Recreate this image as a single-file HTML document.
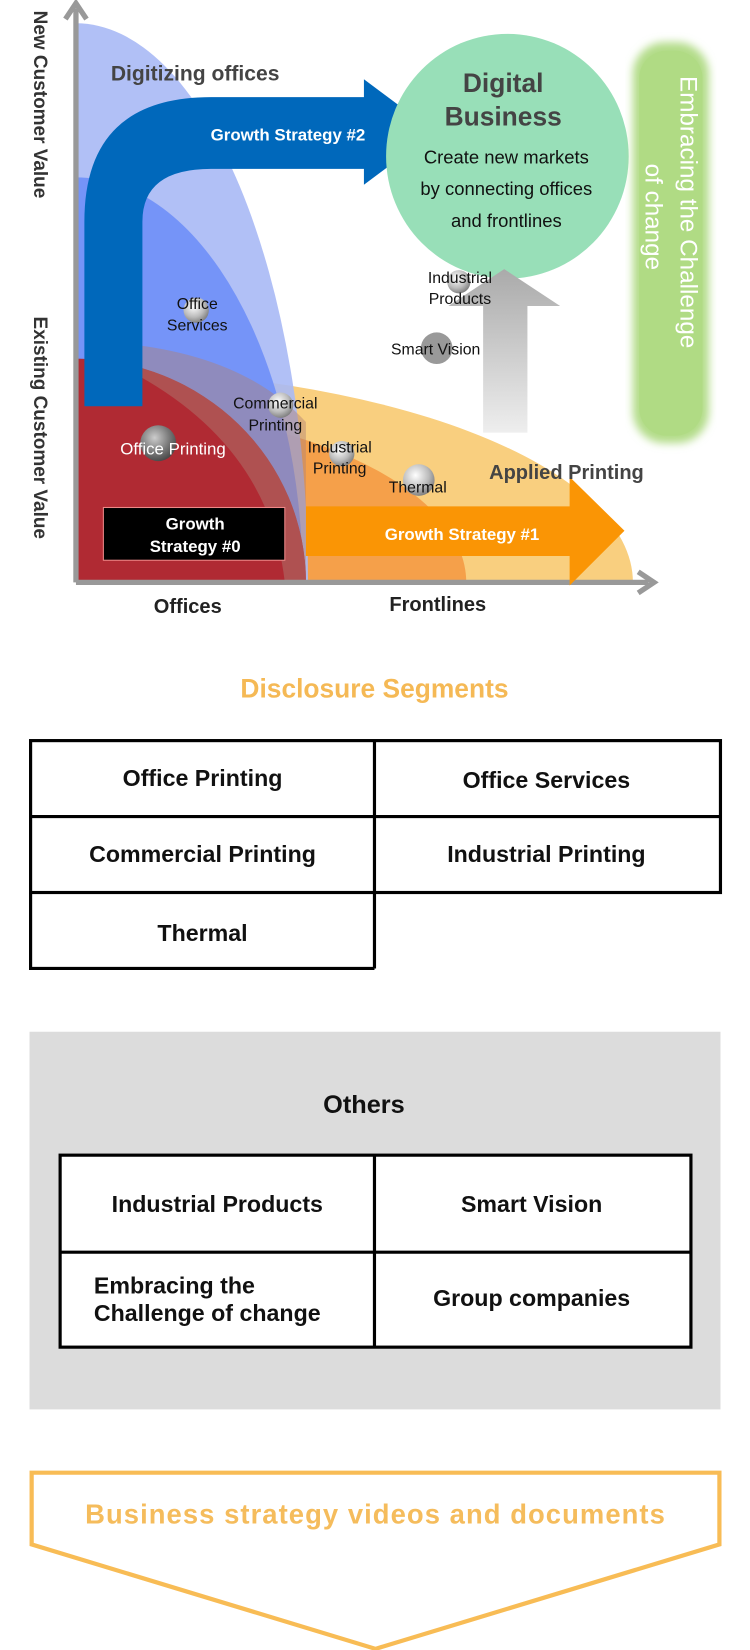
<!DOCTYPE html>
<html><head><meta charset="utf-8"><style>
html,body{margin:0;padding:0;background:#fff;width:750px;height:1650px;overflow:hidden}
svg{display:block}
text{font-family:"Liberation Sans",sans-serif}
</style></head><body>
<svg width="750" height="1650" viewBox="0 0 711 1564" xmlns="http://www.w3.org/2000/svg">
<defs>
<radialGradient id="ball" cx="0.4" cy="0.35" r="0.7"><stop offset="0" stop-color="#fff"/><stop offset="0.6" stop-color="#bbb"/><stop offset="1" stop-color="#777"/></radialGradient>
<radialGradient id="dball" cx="0.4" cy="0.35" r="0.7"><stop offset="0" stop-color="#ccc"/><stop offset="0.6" stop-color="#777"/><stop offset="1" stop-color="#444"/></radialGradient>
<linearGradient id="gray" x1="0" y1="1" x2="0" y2="0"><stop offset="0" stop-color="#eee"/><stop offset="1" stop-color="#aaa"/></linearGradient>
<filter id="blur"><feGaussianBlur stdDeviation="4"/></filter>
</defs>
<!-- regions -->
<path d="M72 552 L72 350 A528 202 0 0 1 600 552 Z" fill="#f9cf7f"/>
<path d="M72 552 L72 385 A370 167 0 0 1 442 552 Z" fill="#f5a04a"/>
<path d="M72 552 L72 22 A220 530 0 0 1 292 552 Z" fill="#a9b9f5" opacity="0.9"/>
<path d="M72 552 L72 168 A215 384 0 0 1 287 552 Z" fill="#6f8ff8" opacity="0.9"/>
<path d="M72 552 L72 340 A218 212 0 0 1 290 552 Z" fill="#b02a33"/>
<path d="M72 340 A218 212 0 0 1 290 552 L72 552 Z" fill="#b02a33"/>
<path d="M110 325 Q230 335 290 400 L290 552 L270 552 Q255 420 120 350 Z" fill="#b08075" opacity="0.45"/>
<!-- blue arrow #2 -->
<path d="M80 385 L80 210 Q80 92 200 92 L345 92 L345 75 L412 125 L345 175 L345 160 L200 160 Q135 160 135 210 L135 385 Z" fill="#0068bb"/>
<text x="273" y="133" font-size="16" font-weight="bold" fill="#fff" text-anchor="middle">Growth Strategy #2</text>
<!-- axes -->
<line x1="72" y1="8" x2="72" y2="552" stroke="#999" stroke-width="5"/>
<path d="M62 18 L72 3 L82 18" fill="none" stroke="#999" stroke-width="5"/>
<line x1="72" y1="552" x2="615" y2="552" stroke="#999" stroke-width="5"/>
<path d="M605 542 L620 552 L605 562" fill="none" stroke="#999" stroke-width="5"/>
<text transform="translate(32,10) rotate(90)" font-size="18" font-weight="bold" fill="#333">New Customer Value</text>
<text transform="translate(32,300) rotate(90)" font-size="18" font-weight="bold" fill="#333">Existing Customer Value</text>
<text x="185" y="76" font-size="20" font-weight="bold" fill="#444" text-anchor="middle">Digitizing offices</text>
<!-- green circle -->
<ellipse cx="481" cy="148" rx="115" ry="116" fill="#98dfb8"/>
<text x="477" y="87" font-size="25" font-weight="bold" fill="#444" text-anchor="middle">Digital</text>
<text x="477" y="119" font-size="25" font-weight="bold" fill="#444" text-anchor="middle">Business</text>
<text x="480" y="155" font-size="17.5" fill="#111" text-anchor="middle">Create new markets</text>
<text x="480" y="185" font-size="17.5" fill="#111" text-anchor="middle">by connecting offices</text>
<text x="480" y="215" font-size="17.5" fill="#111" text-anchor="middle">and frontlines</text>
<!-- green pill -->
<rect x="600" y="40" width="72" height="380" rx="30" fill="#b2dc88" filter="url(#blur)"/>
<rect x="606" y="48" width="60" height="365" rx="26" fill="#b0db84"/>
<text transform="translate(645,72) rotate(90)" font-size="23" fill="#fff">Embracing the Challenge</text>
<text transform="translate(612,155) rotate(90)" font-size="23" fill="#fff">of change</text>
<!-- gray arrow -->
<path d="M458 410 L458 290 L425 290 L478 255 L531 290 L500 290 L500 410 Z" fill="url(#gray)"/>
<!-- orange arrow #1 -->
<path d="M290 480 L540 480 L540 452 L592 503 L540 555 L540 527 L290 527 Z" fill="#fa9505"/>
<text x="438" y="512" font-size="16" font-weight="bold" fill="#fff" text-anchor="middle">Growth Strategy #1</text>
<!-- black box -->
<rect x="98" y="481" width="172" height="50" fill="#000" stroke="#e88" stroke-width="1"/>
<text x="185" y="502" font-size="16" font-weight="bold" fill="#fff" text-anchor="middle">Growth</text>
<text x="185" y="523" font-size="16" font-weight="bold" fill="#fff" text-anchor="middle">Strategy #0</text>
<!-- balls -->
<circle cx="186" cy="294" r="12" fill="url(#ball)"/>
<circle cx="150" cy="420" r="17" fill="url(#dball)"/>
<circle cx="266" cy="384" r="12" fill="url(#ball)"/>
<circle cx="324" cy="430" r="12" fill="url(#ball)"/>
<circle cx="397" cy="455" r="15" fill="url(#ball)"/>
<circle cx="435" cy="267" r="11" fill="url(#ball)"/>
<circle cx="414" cy="330" r="15" fill="#999"/>
<text x="187" y="293" font-size="15" fill="#111" text-anchor="middle">Office</text>
<text x="187" y="313" font-size="15" fill="#111" text-anchor="middle">Services</text>
<text x="164" y="431" font-size="16" fill="#fff" text-anchor="middle">Office Printing</text>
<text x="261" y="387" font-size="15" fill="#111" text-anchor="middle">Commercial</text>
<text x="261" y="408" font-size="15" fill="#111" text-anchor="middle">Printing</text>
<text x="322" y="429" font-size="15" fill="#111" text-anchor="middle">Industrial</text>
<text x="322" y="449" font-size="15" fill="#111" text-anchor="middle">Printing</text>
<text x="396" y="467" font-size="15" fill="#111" text-anchor="middle">Thermal</text>
<text x="436" y="268" font-size="15" fill="#111" text-anchor="middle">Industrial</text>
<text x="436" y="288" font-size="15" fill="#111" text-anchor="middle">Products</text>
<text x="413" y="336" font-size="15" fill="#111" text-anchor="middle">Smart Vision</text>
<text x="537" y="454" font-size="19" font-weight="bold" fill="#444" text-anchor="middle">Applied Printing</text>
<text x="178" y="581" font-size="19" font-weight="bold" fill="#222" text-anchor="middle">Offices</text>
<text x="415" y="579" font-size="19" font-weight="bold" fill="#222" text-anchor="middle">Frontlines</text>
<!-- disclosure -->
<text x="355" y="661" font-size="25" font-weight="bold" fill="#f5b955" text-anchor="middle">Disclosure Segments</text>
<g fill="none" stroke="#000" stroke-width="3">
<rect x="29" y="702" width="654" height="144"/>
<line x1="29" y1="774" x2="683" y2="774"/>
<line x1="355" y1="702" x2="355" y2="918"/>
<path d="M29 846 L29 918 L355 918"/>
</g>
<g font-size="22" font-weight="bold" fill="#111" text-anchor="middle">
<text x="192" y="745">Office Printing</text>
<text x="518" y="747">Office Services</text>
<text x="192" y="817">Commercial Printing</text>
<text x="518" y="817">Industrial Printing</text>
<text x="192" y="892">Thermal</text>
</g>
<!-- others -->
<rect x="28" y="978" width="655" height="358" fill="#dcdcdc"/>
<text x="345" y="1055" font-size="24" font-weight="bold" fill="#111" text-anchor="middle">Others</text>
<g stroke="#000" stroke-width="3">
<rect x="57" y="1095" width="598" height="182" fill="#fff"/>
<line x1="57" y1="1187" x2="655" y2="1187"/>
<line x1="355" y1="1095" x2="355" y2="1277"/>
</g>
<g font-size="22" font-weight="bold" fill="#111">
<text x="206" y="1149" text-anchor="middle">Industrial Products</text>
<text x="504" y="1149" text-anchor="middle">Smart Vision</text>
<text x="89" y="1226">Embracing the</text>
<text x="89" y="1252">Challenge of change</text>
<text x="504" y="1238" text-anchor="middle">Group companies</text>
</g>
<!-- bottom -->
<path d="M30 1396 L682 1396 L682 1464 L356 1563 L30 1464 Z" fill="#fff" stroke="#f8bc55" stroke-width="4"/>
<text x="356" y="1444" font-size="26" font-weight="bold" fill="#f5bc5c" text-anchor="middle" letter-spacing="1">Business strategy videos and documents</text>
</svg>
</body></html>
